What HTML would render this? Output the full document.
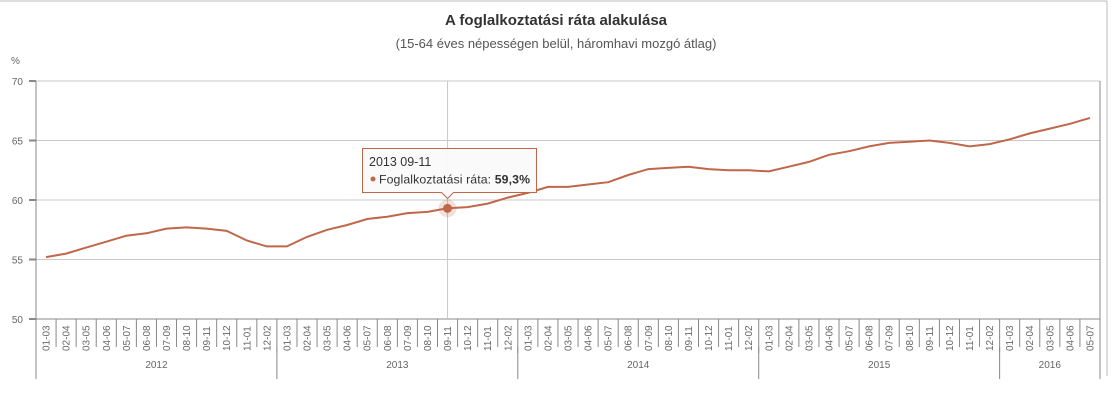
<!DOCTYPE html>
<html><head><meta charset="utf-8"><style>
html,body{margin:0;padding:0;background:#fff;width:1112px;height:402px;overflow:hidden}
svg{display:block;font-family:"Liberation Sans",sans-serif}
</style></head><body>
<svg id="s" width="1112" height="402" viewBox="0 0 1112 402" xmlns="http://www.w3.org/2000/svg">
<line x1="0" y1="1" x2="1107" y2="1" stroke="#bbb" stroke-width="1"/>
<line x1="1107" y1="1" x2="1107" y2="376" stroke="#bbb" stroke-width="1"/>
<text x="556" y="25" text-anchor="middle" font-size="15" font-weight="bold" fill="#333">A foglalkoztatási ráta alakulása</text>
<text x="556" y="48" text-anchor="middle" font-size="13" fill="#555">(15-64 éves népességen belül, háromhavi mozgó átlag)</text>
<text x="11" y="64" font-size="10" fill="#666">%</text>
<g id="g"></g>
</svg>
<script>
var g=document.getElementById('g'),h='';
var L=36,R=1100,T=81,B=319;
function y(v){return T+(70-v)*(B-T)/20;}
[70,65,60,55,50].forEach(function(v){var yy=y(v);
h+='<line x1="'+L+'" y1="'+yy+'" x2="'+R+'" y2="'+yy+'" stroke="'+(v==50?'#888':'#c8c8c8')+'" stroke-width="1"/>';
h+='<line x1="29" y1="'+yy+'" x2="'+L+'" y2="'+yy+'" stroke="#888" stroke-width="2"/>';
h+='<text x="23" y="'+(yy+4)+'" text-anchor="end" font-size="10" fill="#666">'+v+'</text>';});
h+='<line x1="'+L+'" y1="'+T+'" x2="'+L+'" y2="'+B+'" stroke="#888"/>';
h+='<line x1="'+R+'" y1="'+T+'" x2="'+R+'" y2="'+B+'" stroke="#888"/>';
var d=[55.2,55.5,56.0,56.5,57.0,57.2,57.6,57.7,57.6,57.4,56.6,56.1,
56.1,56.9,57.5,57.9,58.4,58.6,58.9,59.0,59.3,59.4,59.7,60.2,
60.6,61.1,61.1,61.3,61.5,62.1,62.6,62.7,62.8,62.6,62.5,62.5,
62.4,62.8,63.2,63.8,64.1,64.5,64.8,64.9,65.0,64.8,64.5,64.7,
65.1,65.6,66.0,66.4,66.9];
var w=(R-L)/53;
var m=['01-03','02-04','03-05','04-06','05-07','06-08','07-09','08-10','09-11','10-12','11-01','12-02'];
for(var i=0;i<=53;i++){var x=L+w*i;var yr=(i%12==0||i==53);
h+='<line x1="'+x+'" y1="'+B+'" x2="'+x+'" y2="'+(yr?(i==53?375:353):347)+'" stroke="#888"/>';
if(i<53){var cx=x+w/2;h+='<text transform="translate('+(cx+3.5)+',351) rotate(-90)" font-size="10" fill="#666">'+m[i%12]+'</text>';}}
['2012','2013','2014','2015','2016'].forEach(function(t,k){var a=L+w*12*k,b=Math.min(R,a+w*12);
h+='<text x="'+((a+b)/2)+'" y="368" text-anchor="middle" font-size="10" fill="#666">'+t+'</text>';
h+='<line x1="'+a+'" y1="347" x2="'+a+'" y2="379" stroke="#888"/>';});
h+='<line x1="'+R+'" y1="347" x2="'+R+'" y2="379" stroke="#888"/>';
var cx20=L+w*20.5;
h+='<line x1="'+cx20+'" y1="'+T+'" x2="'+cx20+'" y2="'+B+'" stroke="#c8c8c8"/>';
var p=d.map(function(v,i){return (L+w*(i+.5)).toFixed(1)+','+y(v).toFixed(1);}).join(' ');
h+='<polyline points="'+p+'" fill="none" stroke="#c0674a" stroke-width="2"/>';
h+='<circle cx="'+cx20+'" cy="'+y(59.3)+'" r="9" fill="#c0674a" opacity="0.2"/>';
h+='<circle cx="'+cx20+'" cy="'+y(59.3)+'" r="4.5" fill="#c0674a"/>';
h+='<path d="M362.5,148.5 H536.5 V192.5 H'+(cx20+6)+' L'+cx20+',198.5 L'+(cx20-6)+',192.5 H362.5 Z" fill="#fafafa" fill-opacity="0.95" stroke="#c0674a" stroke-width="1"/>';
h+='<text x="369" y="166" font-size="12.5" fill="#333">2013 09-11</text>';
h+='<circle cx="373" cy="179" r="2.5" fill="#c0674a"/>';
h+='<text x="379" y="183.5" font-size="12.3" fill="#333" textLength="151">Foglalkoztatási ráta: <tspan font-weight="bold">59,3%</tspan></text>';
g.innerHTML=h;
</script>
</body></html>
